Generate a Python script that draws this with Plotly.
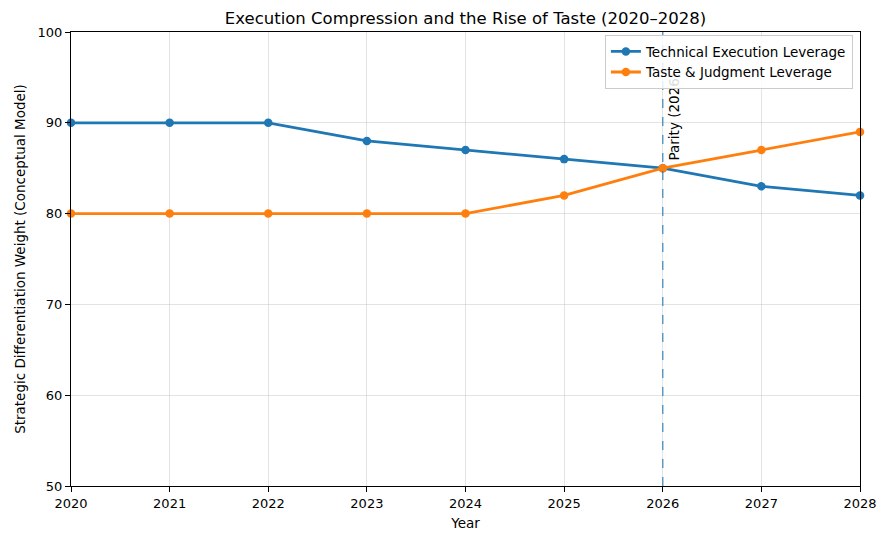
import plotly.graph_objects as go

years = [2020, 2021, 2022, 2023, 2024, 2025, 2026, 2027, 2028]
technical = [90, 90, 90, 88, 87, 86, 85, 83, 82]
taste = [80, 80, 80, 80, 80, 82, 85, 87, 89]
parity_year = 2026
parity_label = "Parity (2026)"
x_ticks = [2020, 2021, 2022, 2023, 2024, 2025, 2026, 2027, 2028]
y_ticks = [50, 60, 70, 80, 90, 100]

C0 = "#1f77b4"
C1 = "#ff7f0e"
FONT = "DejaVu Sans"

fig = go.Figure()
fig.add_trace(go.Scatter(
    x=years, y=technical, mode="lines+markers", name="Technical Execution Leverage",
    line=dict(color=C0, width=2.8), marker=dict(color=C0, size=8.5), cliponaxis=False))
fig.add_trace(go.Scatter(
    x=years, y=taste, mode="lines+markers", name="Taste & Judgment Leverage",
    line=dict(color=C1, width=2.8), marker=dict(color=C1, size=8.5), cliponaxis=False))

fig.add_shape(type="line", x0=parity_year, x1=parity_year, xref="x", y0=0, y1=1, yref="y domain",
              line=dict(color="rgba(31,119,180,0.7)", width=1.5, dash="dash"), layer="above")

fig.add_annotation(x=parity_year, y=85.6, xref="x", yref="y", text=parity_label, textangle=-90,
                   showarrow=False, xanchor="left", yanchor="bottom", xshift=1,
                   font=dict(family=FONT, size=13.5, color="black"))

axis_common = dict(showline=True, linecolor="black", linewidth=1.1, mirror=True,
                   ticks="outside", ticklen=5, tickwidth=1.1, tickcolor="black",
                   showgrid=True, gridcolor="rgba(176,176,176,0.35)", gridwidth=1,
                   zeroline=False, tickfont=dict(family=FONT, size=13, color="black"))

fig.update_layout(
    width=881, height=532,
    margin=dict(l=58, r=19, t=24, b=53),
    plot_bgcolor="white", paper_bgcolor="white",
    title=dict(text="Execution Compression and the Rise of Taste (2020–2028)",
               x=0.5, xref="paper", y=1 - 10 / 532, yanchor="middle",
               font=dict(family=FONT, size=16.5, color="black")),
    xaxis=dict(range=[2020, 2028], tickvals=x_ticks,
               title=dict(text="Year", font=dict(family=FONT, size=13.5, color="black"), standoff=8),
               **axis_common),
    yaxis=dict(range=[50, 100], tickvals=y_ticks,
               title=dict(text="Strategic Differentiation Weight (Conceptual Model)",
                          font=dict(family=FONT, size=13.5, color="black"), standoff=8),
               **axis_common),
    legend=dict(x=0.991, y=0.993, xanchor="right", yanchor="top",
                bgcolor="rgba(255,255,255,0.85)", bordercolor="#cccccc", borderwidth=1,
                font=dict(family=FONT, size=13.5, color="black"), tracegroupgap=0,
                itemwidth=30),
    showlegend=True,
)

post_js = """
(function(){
  var gd = document.getElementById('{plot_id}');
  function raise(){
    var lg = gd.querySelector('.infolayer .legend');
    if (lg && lg.parentNode) { lg.parentNode.appendChild(lg); }
  }
  raise();
  gd.on && gd.on('plotly_afterplot', raise);
})();
"""

fig.write_html("out.html", post_script=post_js)
